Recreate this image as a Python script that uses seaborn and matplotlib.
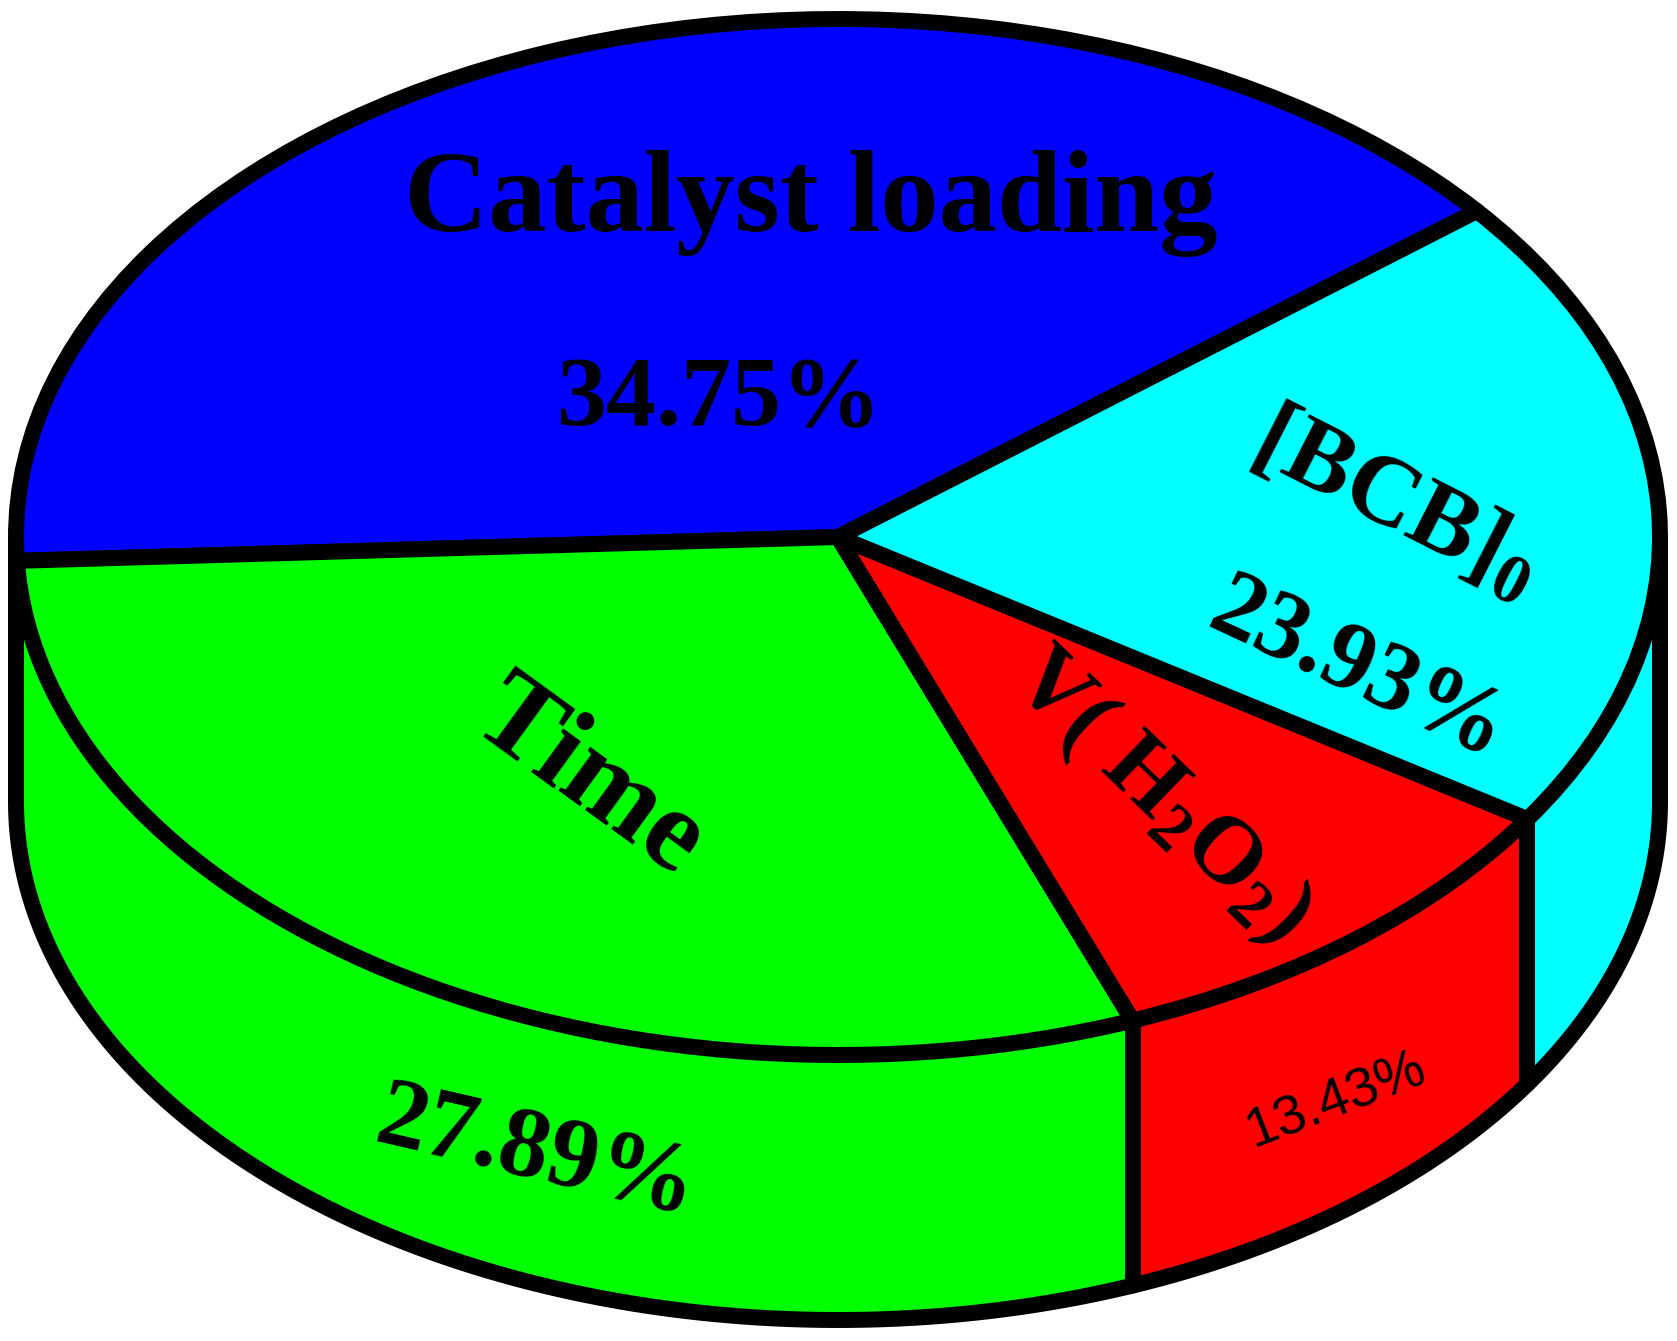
import matplotlib
matplotlib.use("Agg")
import matplotlib.pyplot as plt
import numpy as np
import seaborn as sns

sns.set_style("white")
plt.rcParams["font.family"] = ["Liberation Serif", "DejaVu Serif"]
plt.rcParams["mathtext.fontset"] = "custom"
plt.rcParams["mathtext.rm"] = "Liberation Serif:bold"
plt.rcParams["mathtext.default"] = "rm"

# sweep of each slice as it is drawn in the picture (percent of the circle)
slice_names = ["Catalyst loading", "Time", "V(H2O2)", "[BCB]0"]
slice_shares = [39.9, 30.1, 10.0, 20.0]
slice_colors = ["#0000FF", "#00FF00", "#FF0000", "#00FFFF"]

# the numbers printed on the slices
printed_names = ["Catalyst loading", "[BCB]0", "V(H2O2)", "Time"]
printed_percent = [34.75, 23.93, 13.43, 27.89]

W, H = 1677, 1341
CX, CY, RX, RY = 838, 537, 822, 518
DEPTH = 265 / RY
LW = 11.5

fig = plt.figure(figsize=(W / 100, H / 100), dpi=100)
ax = fig.add_axes([0, 0, 1, 1])

wedges, _ = ax.pie(
    slice_shares,
    colors=slice_colors,
    startangle=39,
    counterclock=True,
    wedgeprops={"edgecolor": "black", "linewidth": LW, "zorder": 3, "joinstyle": "round"},
)

# pie is squashed into an ellipse by the axes limits
ax.set_aspect("auto")
ax.set_xlim(-CX / RX, (W - CX) / RX)
ax.set_ylim((CY - H) / RY, CY / RY)

# side wall under every slice that faces the viewer
for w, color in zip(wedges, slice_colors):
    a = max(w.theta1, 180)
    b = min(w.theta2, 360)
    if b <= a:
        continue
    t = np.radians(np.linspace(a, b, 200))
    x, y = np.cos(t), np.sin(t)
    ax.fill_between(x, y, y - DEPTH, color=color, linewidth=0, zorder=1)
    ax.plot(x, y - DEPTH, color="black", linewidth=LW, zorder=2, solid_capstyle="round")
    if a > 180 and b < 360:
        ax.vlines(x[-1], y[-1] - DEPTH, y[-1], color="black", linewidth=LW, zorder=2)

# wall edges, the left end also hides the sliver of blue wall
ax.fill_between([-1, -0.995], -DEPTH, 0, color="#00FF00", linewidth=0, zorder=1)
ax.vlines([-1, 1], -DEPTH, 0, color="black", linewidth=LW, zorder=2, capstyle="round")

# labels
serif = {"family": "Liberation Serif", "weight": "bold", "color": "black", "ha": "center", "va": "center", "zorder": 5}


def label(fx, fy, s, size, rot=0, **kw):
    opts = dict(serif)
    opts.update(kw)
    ax.text(fx, fy, s, transform=ax.transAxes, fontsize=size, rotation=rot,
            rotation_mode="anchor", **opts)


pct = dict(zip(printed_names, printed_percent))
label(0.4835, 0.8480, "Catalyst loading", 84)
label(0.4290, 0.7010, f"{pct['Catalyst loading']:.2f}%", 72)
label(0.8320, 0.6240, r"[BCB]$_0$", 72, -27)
label(0.8095, 0.4990, f"{pct['[BCB]0']:.2f}%", 70, -25)
label(0.3510, 0.4190, "Time", 84, -36)
label(0.3200, 0.1390, f"{pct['Time']:.2f}%", 72, -13)
label(0.6920, 0.4060, r"V( H$_2$O$_2$)", 69, -44)
label(0.7970, 0.1790, f"{pct['V(H2O2)']:.2f}%", 40, 21, family="Liberation Sans", weight="normal")

fig.savefig("out.png", dpi=100)
